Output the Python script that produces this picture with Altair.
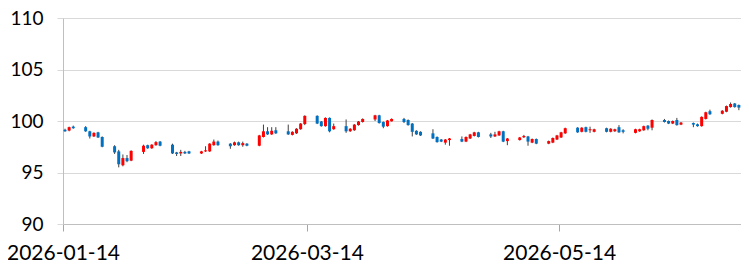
import altair as alt
import pandas as pd

dates = [
    "2026-01-14", "2026-01-15", "2026-01-16",
    "2026-01-19", "2026-01-20", "2026-01-21", "2026-01-22", "2026-01-23",
    "2026-01-26", "2026-01-27", "2026-01-28", "2026-01-29", "2026-01-30",
    "2026-02-02", "2026-02-03", "2026-02-04", "2026-02-05", "2026-02-06",
    "2026-02-09", "2026-02-10", "2026-02-11", "2026-02-12", "2026-02-13",
    "2026-02-16", "2026-02-17", "2026-02-18", "2026-02-19", "2026-02-20",
    "2026-02-23", "2026-02-24", "2026-02-25", "2026-02-26", "2026-02-27",
    "2026-03-02", "2026-03-03", "2026-03-04", "2026-03-05", "2026-03-06",
    "2026-03-09", "2026-03-10", "2026-03-11", "2026-03-12", "2026-03-13",
    "2026-03-16", "2026-03-17", "2026-03-18", "2026-03-19", "2026-03-20",
    "2026-03-23", "2026-03-24", "2026-03-25", "2026-03-26", "2026-03-27",
    "2026-03-30", "2026-03-31", "2026-04-01", "2026-04-02", "2026-04-03",
    "2026-04-06", "2026-04-07", "2026-04-08", "2026-04-09", "2026-04-10",
    "2026-04-13", "2026-04-14", "2026-04-15", "2026-04-16", "2026-04-17",
    "2026-04-20", "2026-04-21", "2026-04-22", "2026-04-23", "2026-04-24",
    "2026-04-27", "2026-04-28", "2026-04-29", "2026-04-30", "2026-05-01",
    "2026-05-04", "2026-05-05", "2026-05-06", "2026-05-07", "2026-05-08",
    "2026-05-11", "2026-05-12", "2026-05-13", "2026-05-14", "2026-05-15",
    "2026-05-18", "2026-05-19", "2026-05-20", "2026-05-21", "2026-05-22",
    "2026-05-25", "2026-05-26", "2026-05-27", "2026-05-28", "2026-05-29",
    "2026-06-01", "2026-06-02", "2026-06-03", "2026-06-04", "2026-06-05",
    "2026-06-08", "2026-06-09", "2026-06-10", "2026-06-11", "2026-06-12",
    "2026-06-15", "2026-06-16", "2026-06-17", "2026-06-18", "2026-06-19",
    "2026-06-22", "2026-06-23", "2026-06-24", "2026-06-25", "2026-06-26",
]

open_ = [
    99.15, 99.07, 99.45,
    99.4, 99.0, 98.5, 98.9, 98.45,
    97.55, 97.05, 95.7, 96.4, 96.15,
    97.0, 97.65, 97.35, 97.65, 98.0,
    97.7, 96.95, 96.85, 97.0, 97.05,
    96.85, 97.05, 97.05, 97.65, 98.0,
    97.8, 97.65, 97.93, 97.65, 97.8,
    97.6, 98.45, 99.0, 98.7, 99.1,
    99.0, 98.65, 98.8, 99.2, 99.7,
    100.5, 99.95, 99.5, 100.3, 99.2,
    99.5, 99.0, 99.1, 99.6, 99.9,
    100.15, 100.55, 99.9, 99.5, 99.97,
    100.2, 100.1, 99.75, 99.05, 98.95,
    98.8, 98.45, 98.2, 97.9, 98.15,
    98.25, 98.0, 98.3, 98.55, 98.9,
    98.7, 98.5, 98.6, 99.0, 98.05,
    98.15, 98.42, 98.5, 97.9, 98.25,
    97.8, 97.9, 98.2, 98.4, 98.8,
    99.35, 98.95, 99.4, 99.1, 98.95,
    99.3, 98.95, 99.0, 99.4, 99.1,
    98.85, 99.0, 99.1, 99.55, 99.35,
    100.1, 100.0, 99.75, 100.1, 99.65,
    99.8, 99.68, 99.5, 100.2, 100.95,
    100.7, 100.9, 101.35, 101.7, 101.55,
]

close = [
    99.0, 99.4, 99.3,
    99.0, 98.5, 98.85, 98.4, 97.5,
    96.95, 95.8, 96.4, 96.1, 97.1,
    97.6, 97.35, 97.7, 97.95, 97.6,
    96.85, 96.8, 97.0, 96.85, 96.85,
    97.05, 97.15, 97.8, 98.0, 97.65,
    97.55, 97.93, 97.65, 97.85, 97.6,
    98.6, 99.0, 98.7, 99.05, 98.8,
    98.7, 98.95, 99.25, 99.75, 100.5,
    99.75, 99.5, 100.3, 99.0, 99.5,
    99.0, 99.25, 99.65, 99.95, 100.2,
    100.55, 99.8, 99.45, 100.05, 100.2,
    99.9, 99.6, 98.95, 98.7, 98.6,
    98.3, 97.95, 98.0, 98.2, 98.3,
    98.0, 98.45, 98.7, 98.9, 98.45,
    98.5, 98.7, 99.0, 98.0, 98.3,
    98.4, 98.55, 98.0, 98.25, 97.8,
    98.05, 98.35, 98.6, 98.9, 99.3,
    98.9, 99.35, 98.95, 99.2, 99.2,
    98.95, 99.25, 99.2, 98.9, 98.95,
    99.2, 99.2, 99.5, 99.25, 100.1,
    99.9, 99.75, 100.0, 99.6, 99.85,
    99.65, 99.5, 100.4, 100.85, 100.65,
    101.0, 101.45, 101.65, 101.35, 101.3,
]

high = [
    99.25, 99.45, 99.55,
    99.5, 99.05, 98.9, 98.95, 98.5,
    97.65, 97.2, 96.75, 96.7, 97.15,
    97.7, 97.7, 97.75, 98.05, 98.05,
    97.8, 97.0, 97.2, 97.1, 97.1,
    97.1, 97.55, 97.85, 98.2, 98.1,
    97.85, 98.0, 98.0, 98.0, 97.85,
    98.65, 99.65, 99.4, 99.4, 99.4,
    99.65, 99.0, 99.3, 99.8, 100.55,
    100.55, 100.0, 100.35, 100.35, 99.75,
    100.15, 99.3, 99.7, 100.0, 100.25,
    100.6, 100.6, 99.95, 100.1, 100.25,
    100.3, 100.15, 99.8, 99.1, 99.0,
    99.2, 98.5, 98.25, 98.25, 98.35,
    98.5, 98.5, 98.75, 98.95, 98.95,
    98.85, 98.95, 99.05, 99.05, 98.35,
    98.45, 98.65, 98.55, 98.3, 98.3,
    98.1, 98.4, 98.65, 98.95, 99.35,
    99.4, 99.4, 99.45, 99.45, 99.25,
    99.35, 99.3, 99.25, 99.6, 99.2,
    99.25, 99.25, 99.55, 99.6, 100.15,
    100.2, 100.05, 100.05, 100.3, 99.9,
    99.85, 99.75, 100.45, 100.9, 101.1,
    101.05, 101.5, 101.8, 101.75, 101.6,
]

low = [
    98.95, 99.0, 99.25,
    98.95, 98.3, 98.45, 98.35, 97.45,
    96.8, 95.5, 95.6, 96.0, 96.1,
    96.8, 97.3, 97.3, 97.6, 97.55,
    96.8, 96.6, 96.6, 96.8, 96.8,
    96.8, 97.0, 97.0, 97.6, 97.6,
    97.3, 97.6, 97.6, 97.5, 97.55,
    97.55, 98.4, 98.65, 98.65, 98.75,
    98.65, 98.6, 98.75, 99.15, 99.6,
    99.7, 99.45, 99.45, 98.9, 99.15,
    98.85, 98.95, 99.05, 99.55, 99.85,
    100.0, 99.75, 99.3, 99.45, 99.95,
    99.8, 99.55, 98.5, 98.65, 98.55,
    98.25, 97.9, 97.95, 97.7, 97.6,
    97.95, 97.95, 98.25, 98.5, 98.4,
    98.35, 98.45, 98.55, 97.95, 97.65,
    98.1, 98.35, 97.6, 97.85, 97.75,
    97.75, 97.85, 98.15, 98.35, 98.75,
    98.85, 98.9, 98.9, 98.85, 98.9,
    98.9, 98.9, 98.95, 98.85, 98.8,
    98.8, 98.95, 99.05, 99.1, 99.1,
    99.85, 99.7, 99.7, 99.55, 99.6,
    99.4, 99.45, 99.45, 100.15, 100.6,
    100.65, 100.85, 101.3, 101.3, 101.05,
]

x_tick_dates = [(2026, 1, 14), (2026, 3, 14), (2026, 5, 14)]
y_ticks = [90, 95, 100, 105, 110]

df = pd.DataFrame({"date": dates, "open": open_, "close": close, "high": high, "low": low})
df["dir"] = ["up" if c >= o else "down" for o, c in zip(open_, close)]

FONT = "Lato"

x_enc = alt.X(
    "date:T",
    scale=alt.Scale(
        type="utc",
        padding=0,
        domain=[
            alt.DateTime(year=2026, month=1, date=14, utc=True),
            alt.DateTime(year=2026, month=6, date=27, utc=True),
        ],
    ),
    axis=alt.Axis(
        values=[alt.DateTime(year=y, month=m, date=d, utc=True) for y, m, d in x_tick_dates],
        format="%Y-%m-%d",
        grid=False,
        title=None,
        domainColor="#BFBFBF",
        tickColor="#A6A6A6",
        tickSize=7,
        labelFontSize=21,
        labelFont=FONT,
        labelColor="#000000",
        labelPadding=11,
        labelFlush=False,
        labelOverlap=False,
    ),
)

y_axis = alt.Axis(
    values=y_ticks,
    title=None,
    grid=True,
    gridColor="#D9D9D9",
    domainColor="#BFBFBF",
    tickColor="#D9D9D9",
    tickSize=6,
    labelFontSize=19,
    labelFont=FONT,
    labelColor="#000000",
    labelPadding=14,
)

base = alt.Chart(df)

wicks = base.mark_rule(color="#404040", strokeWidth=1, xOffset=2).encode(
    x=x_enc,
    y=alt.Y("low:Q", scale=alt.Scale(domain=[90, 110], nice=False, padding=0), axis=y_axis),
    y2="high:Q",
)

bodies = base.mark_bar(width=3, xOffset=2).encode(
    x=x_enc,
    y=alt.Y("open:Q"),
    y2="close:Q",
    color=alt.Color(
        "dir:N",
        scale=alt.Scale(domain=["up", "down"], range=["#FF0000", "#0070C0"]),
        legend=None,
    ),
)

chart = (
    alt.layer(wicks, bodies)
    .properties(
        width=678,
        height=206,
        autosize=alt.AutoSizeParams(type="none"),
        padding={"left": 55, "top": 10, "right": 0, "bottom": 38},
    )
    .configure_view(stroke=None)
)

chart.save("out.html", embed_options={"renderer": "svg", "actions": False})
